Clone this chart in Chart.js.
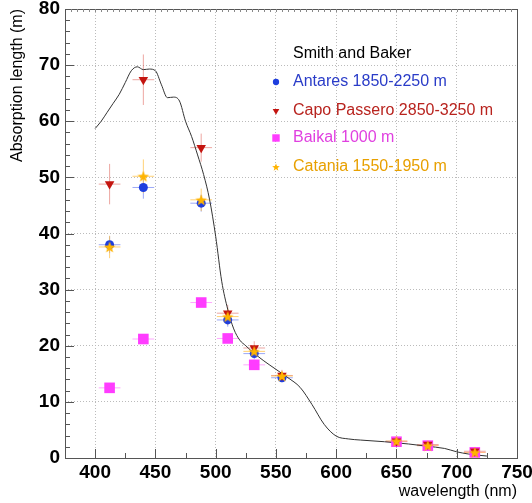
<!DOCTYPE html>
<html>
<head>
<meta charset="utf-8">
<script src="https://cdn.jsdelivr.net/npm/chart.js@4.4.1/dist/chart.umd.min.js"></script>
<style>
html, body { margin: 0; padding: 0; background: #fff; }
canvas { display: block; }
</style>
</head>
<body>
<canvas id="absChart" width="532" height="503"></canvas>
<script>
// --- data ---
const xTicks = [400, 450, 500, 550, 600, 650, 700, 750];
const yTicks = [0, 10, 20, 30, 40, 50, 60, 70, 80];

// Smith and Baker curve
const curveNm  = [400, 405, 410, 415, 420, 425, 430, 435, 440, 445, 450, 455, 460, 465, 470, 475, 480, 485, 490, 495, 500, 505, 510, 515, 520, 525, 530, 540, 550, 560, 570, 580, 590, 600, 610, 620, 640, 650, 660, 675, 690, 700, 710, 725];
const curveLen = [58.7, 60.0, 61.6, 63.2, 64.8, 66.9, 69.0, 69.7, 69.2, 69.3, 69.0, 66.5, 64.2, 64.3, 63.6, 60.0, 57.3, 54.0, 50.5, 46.0, 39.5, 31.5, 26.5, 23.0, 21.0, 20.0, 19.0, 17.3, 15.8, 14.3, 12.6, 9.5, 6.0, 3.9, 3.4, 3.2, 2.9, 2.7, 2.5, 2.1, 1.7, 1.1, 0.7, 0.35];

const antaresNm  = [412, 440, 488, 510, 532, 555];
const antaresLen = [38.0, 48.2, 45.4, 24.6, 18.6, 14.3];
const antaresErr = [1.5, 2.0, 1.5, 1.2, 1.0, 0.8];

const capoNm  = [412, 440, 488, 510, 532, 555, 650, 676, 715];
const capoLen = [48.8, 67.4, 55.3, 25.8, 19.6, 14.7, 3.0, 2.4, 1.2];
const capoErr = [3.6, 4.5, 2.5, 1.5, 1.2, 1.0, 0.3, 0.3, 0.3];

const baikalNm  = [412, 440, 488, 510, 532, 650, 676, 715];
const baikalLen = [12.5, 21.2, 27.7, 21.3, 16.6, 2.9, 2.2, 1.0];
const baikalErr = [0.4, 0.4, 0.4, 0.4, 0.4, 0.3, 0.3, 0.3];

const cataniaNm  = [412, 440, 488, 510, 532, 555, 650, 676, 715];
const cataniaLen = [37.6, 50.2, 46.0, 25.2, 19.0, 14.6, 3.0, 2.2, 1.0];
const cataniaErr = [2.0, 3.0, 2.0, 1.5, 1.0, 0.8, 0.3, 0.3, 0.3];

const waveErr = 9; // filter half width in nm

const FONT = "'Liberation Sans', Arial, Helvetica, sans-serif";

function makeStar(color, size) {
    const c = document.createElement('canvas');
    c.width = c.height = size;
    const g = c.getContext('2d');
    g.fillStyle = color;
    g.beginPath();
    for (let i = 0; i < 10; i++) {
        const r = i % 2 ? size * 0.21 : size / 2;
        const a = -Math.PI / 2 + i * Math.PI / 5;
        const px = size / 2 + r * Math.cos(a), py = size / 2 + r * Math.sin(a) + size * 0.05;
        i ? g.lineTo(px, py) : g.moveTo(px, py);
    }
    g.closePath();
    g.fill();
    return c;
}
const starImg = makeStar('#ffb400', 12);
const starSmall = makeStar('#ffb400', 8);

const pts = (xs, ys) => xs.map((x, i) => ({ x: x, y: ys[i] }));

const series = [
    { label: 'Antares 1850-2250 m', nm: antaresNm, len: antaresLen, err: antaresErr, color: '#1e3ede', text: '#2a3cc8', errColor: 'rgba(90,110,240,0.6)', style: 'circle', radius: 4.5, rot: 0, order: 2 },
    { label: 'Capo Passero 2850-3250 m', nm: capoNm, len: capoLen, err: capoErr, color: '#c4140f', text: '#b8231e', errColor: 'rgba(220,80,70,0.5)', style: 'triangle', radius: 5.5, rot: 180, order: 1 },
    { label: 'Baikal 1000 m', nm: baikalNm, len: baikalLen, err: baikalErr, color: '#ff3cff', text: '#e040e0', errColor: 'rgba(255,110,255,0.6)', style: 'rect', radius: 7.5, rot: 0, order: 3 },
    { label: 'Catania 1550-1950 m', nm: cataniaNm, len: cataniaLen, err: cataniaErr, color: '#ffb400', text: '#e8a000', errColor: 'rgba(255,190,60,0.7)', style: starImg, radius: 6, rot: 0, order: 0 }
];

const datasets = [{
    type: 'line',
    label: 'Smith and Baker',
    data: pts(curveNm, curveLen),
    borderColor: '#333',
    borderWidth: 1,
    pointRadius: 0,
    cubicInterpolationMode: 'monotone',
    order: 5
}].concat(series.map(s => ({
    type: 'scatter',
    label: s.label,
    data: pts(s.nm, s.len),
    backgroundColor: s.color,
    borderColor: s.color,
    borderWidth: 0,
    pointStyle: s.style,
    pointRadius: s.radius,
    pointRotation: s.rot,
    order: s.order
})));

// error bars, under the markers
const errorBars = {
    id: 'errorBars',
    beforeDatasetsDraw(chart) {
        const { ctx, scales: { x, y } } = chart;
        ctx.save();
        ctx.lineWidth = 1;
        series.forEach(s => {
            ctx.strokeStyle = s.errColor;
            s.nm.forEach((nm, i) => {
                const px = x.getPixelForValue(nm), py = y.getPixelForValue(s.len[i]);
                ctx.beginPath();
                ctx.moveTo(x.getPixelForValue(nm - waveErr), py);
                ctx.lineTo(x.getPixelForValue(nm + waveErr), py);
                ctx.moveTo(px, y.getPixelForValue(s.len[i] - s.err[i]));
                ctx.lineTo(px, y.getPixelForValue(s.len[i] + s.err[i]));
                ctx.stroke();
            });
        });
        ctx.restore();
    }
};

// box frame + inward ticks
const frame = {
    id: 'frame',
    afterDraw(chart) {
        const { ctx, chartArea: a, scales: { x, y } } = chart;
        ctx.save();
        ctx.strokeStyle = '#555';
        ctx.lineWidth = 1;
        ctx.strokeRect(a.left + 0.5, a.top + 0.5, a.right - a.left, a.bottom - a.top);
        ctx.beginPath();
        for (let v = 0; v <= 80; v += 2) {
            const py = Math.round(y.getPixelForValue(v)) + 0.5;
            const len = v % 10 === 0 ? 9 : 5;
            ctx.moveTo(a.left, py); ctx.lineTo(a.left + len, py);
        }
        for (let v = 400; v < 750; v += 25) {
            const px = Math.round(x.getPixelForValue(v)) + 0.5;
            const len = v % 50 === 0 ? 9 : 5;
            ctx.moveTo(px, a.bottom); ctx.lineTo(px, a.bottom - len);
        }
        ctx.stroke();
        ctx.strokeStyle = '#888';
        ctx.beginPath();
        for (let v = 380; v < 750; v += 5) {
            const px = Math.round(x.getPixelForValue(v)) + 0.5;
            ctx.moveTo(px, a.top); ctx.lineTo(px, a.top + 3);
        }
        ctx.stroke();
        ctx.restore();
    }
};

// legend drawn inside the plot
const legendBox = {
    id: 'legendBox',
    afterDatasetsDraw(chart) {
        const { ctx } = chart;
        ctx.save();
        ctx.font = '16px ' + FONT;
        ctx.textBaseline = 'middle';
        ctx.fillStyle = '#000';
        ctx.fillText('Smith and Baker', 293, 54);
        const rows = [82, 111, 138, 167];
        series.forEach((s, i) => {
            ctx.fillStyle = s.color;
            ctx.strokeStyle = s.color;
            if (s.style === starImg) {
                ctx.drawImage(starSmall, 276 - 4, rows[i] - 4);
            } else {
                Chart.helpers.drawPoint(ctx, { pointStyle: s.style, radius: s.radius * 0.7, rotation: s.rot, borderWidth: 0 }, 276, rows[i]);
            }
            ctx.fillStyle = s.text;
            ctx.fillText(s.label, 293, rows[i]);
        });
        ctx.restore();
    }
};

new Chart(document.getElementById('absChart'), {
    type: 'scatter',
    data: { datasets },
    plugins: [errorBars, legendBox, frame],
    options: {
        responsive: false,
        animation: false,
        layout: { padding: { top: 9, right: 15, left: 0, bottom: 0 } },
        plugins: { legend: { display: false }, tooltip: { enabled: false } },
        scales: {
            x: {
                type: 'linear', min: 375, max: 750,
                afterBuildTicks: s => { s.ticks = xTicks.map(v => ({ value: v })); },
                afterFit: s => { s.height = 45; s.paddingLeft = 0; s.paddingRight = 0; },
                grid: { color: '#bbb', drawTicks: false },
                border: { display: false, dash: [1, 2] },
                ticks: { color: '#000', font: { family: FONT, size: 19, weight: 'bold' }, padding: 3, maxRotation: 0, autoSkip: false },
                title: { display: true, text: 'wavelength (nm)', align: 'end', color: '#000', font: { family: FONT, size: 16 }, padding: { top: 0, bottom: 2 } }
            },
            y: {
                type: 'linear', min: 0, max: 80,
                afterBuildTicks: s => { s.ticks = yTicks.map(v => ({ value: v })); },
                afterFit: s => { s.width = 65; s.paddingTop = 0; s.paddingBottom = 0; },
                grid: { color: '#bbb', drawTicks: false },
                border: { display: false, dash: [1, 2] },
                ticks: { color: '#000', font: { family: FONT, size: 19, weight: 'bold' }, padding: 5, autoSkip: false },
                title: { display: true, text: 'Absorption length (m)', align: 'end', color: '#000', font: { family: FONT, size: 16 }, padding: { top: 8, bottom: 0 } }
            }
        }
    }
});
</script>
</body>
</html>
